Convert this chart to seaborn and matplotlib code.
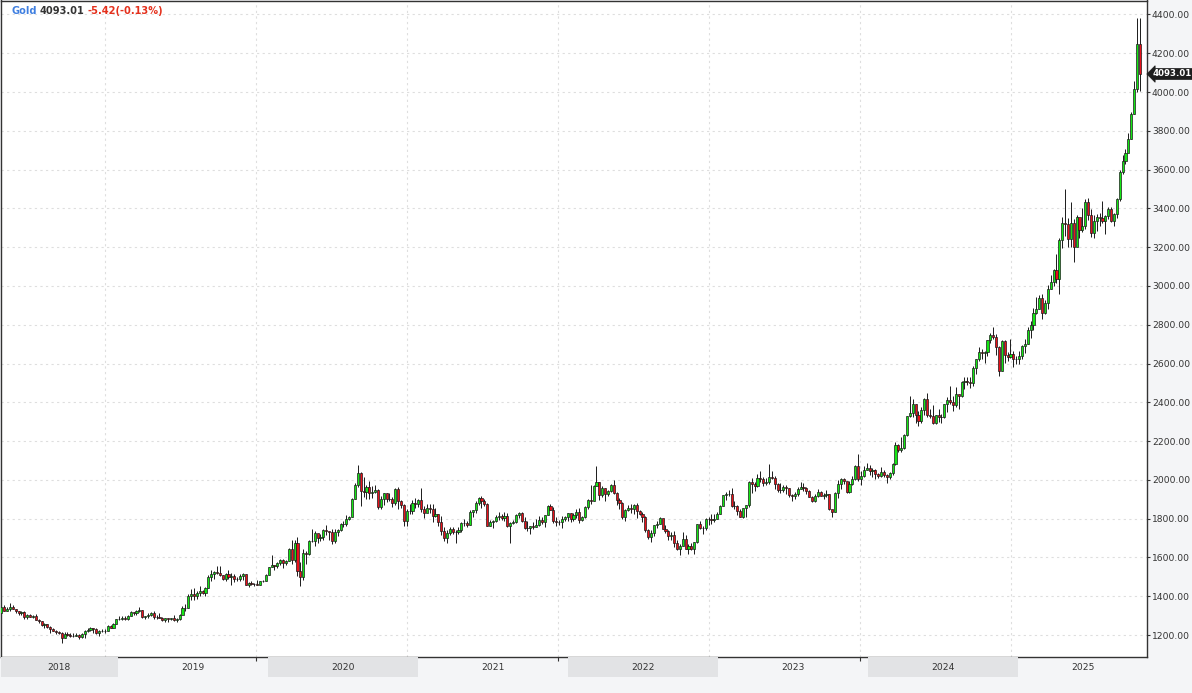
import numpy as np
import pandas as pd
import matplotlib
matplotlib.use("Agg")
import matplotlib.pyplot as plt
import matplotlib.dates as mdates
import matplotlib.transforms as mtransforms
import seaborn as sns

# ---------------- data (weekly Gold candles, Friday closes) ----------------
first_week = "2018-03-23"
first_open = 1313.0

close_2018 = [1347, 1325, 1332, 1345, 1336, 1323, 1315, 1320, 1291, 1303, 1294, 1298, 1279, 1270, 1252,
              1255, 1241, 1231, 1223, 1214, 1212, 1184, 1206, 1201, 1197, 1194, 1199, 1192, 1203, 1222,
              1227, 1235, 1233, 1209, 1222, 1223, 1222, 1248, 1238, 1257, 1280]
high_2018 = [1350, 1356, 1347, 1365, 1354, 1336, 1324, 1326, 1322, 1308, 1307, 1303, 1310, 1282, 1272,
             1263, 1259, 1246, 1236, 1228, 1222, 1213, 1214, 1214, 1212, 1212, 1212, 1204, 1209, 1228,
             1234, 1243, 1238, 1237, 1226, 1232, 1230, 1251, 1251, 1262, 1284]
low_2018 = [1312, 1322, 1322, 1325, 1333, 1316, 1302, 1304, 1285, 1281, 1292, 1290, 1276, 1260, 1246,
            1238, 1237, 1211, 1221, 1204, 1207, 1160, 1183, 1195, 1191, 1191, 1193, 1181, 1182, 1184,
            1218, 1220, 1211, 1205, 1196, 1218, 1212, 1222, 1234, 1236, 1256]

close_2019 = [1285, 1289, 1282, 1298, 1318, 1314, 1322, 1328, 1294, 1298, 1302, 1313, 1292, 1291, 1290,
              1275, 1286, 1281, 1286, 1277, 1284, 1305, 1341, 1341, 1399, 1409, 1400, 1415, 1426, 1419,
              1440, 1497, 1513, 1527, 1520, 1507, 1488, 1517, 1497, 1505, 1489, 1490, 1505, 1514, 1459,
              1468, 1462, 1464, 1460, 1476, 1478, 1511]
high_2019 = [1299, 1298, 1298, 1303, 1326, 1319, 1327, 1347, 1329, 1300, 1311, 1320, 1325, 1302, 1311,
             1293, 1290, 1290, 1289, 1303, 1286, 1307, 1348, 1358, 1411, 1439, 1443, 1426, 1453, 1434,
             1449, 1510, 1535, 1531, 1555, 1557, 1510, 1522, 1535, 1519, 1517, 1499, 1516, 1518, 1515,
             1475, 1476, 1466, 1483, 1480, 1482, 1514]
low_2019 = [1276, 1279, 1279, 1276, 1297, 1302, 1302, 1320, 1290, 1281, 1290, 1298, 1281, 1283, 1287,
            1270, 1266, 1267, 1279, 1274, 1267, 1276, 1306, 1322, 1340, 1382, 1382, 1384, 1403, 1411,
            1400, 1440, 1480, 1491, 1516, 1503, 1484, 1479, 1488, 1458, 1474, 1480, 1481, 1486, 1456,
            1445, 1456, 1451, 1459, 1458, 1471, 1477]

close_2020 = [1552, 1560, 1557, 1571, 1589, 1570, 1584, 1644, 1585, 1673, 1530, 1498, 1625, 1620, 1683,
              1683, 1726, 1701, 1703, 1743, 1734, 1730, 1684, 1730, 1742, 1771, 1775, 1799, 1810, 1902,
              1975, 2035, 1944, 1940, 1964, 1934, 1940, 1950, 1862, 1900, 1930, 1899, 1902, 1879, 1951,
              1889, 1872, 1788, 1839, 1839, 1881, 1877]
high_2020 = [1553, 1611, 1563, 1574, 1591, 1593, 1585, 1649, 1689, 1692, 1703, 1575, 1645, 1631, 1690,
             1747, 1738, 1723, 1722, 1745, 1765, 1738, 1745, 1745, 1745, 1779, 1789, 1818, 1815, 1904,
             1984, 2075, 2039, 2015, 1976, 1992, 1966, 1973, 1952, 1917, 1931, 1933, 1933, 1910, 1960,
             1965, 1898, 1876, 1848, 1875, 1896, 1907]
low_2020 = [1510, 1549, 1536, 1546, 1563, 1548, 1561, 1581, 1564, 1576, 1504, 1451, 1485, 1567, 1611,
            1681, 1660, 1672, 1685, 1688, 1718, 1692, 1671, 1672, 1711, 1736, 1757, 1764, 1791, 1807,
            1899, 1965, 1863, 1911, 1902, 1901, 1906, 1933, 1849, 1848, 1873, 1888, 1890, 1860, 1868,
            1850, 1853, 1764, 1764, 1822, 1826, 1855]

close_2021 = [1895, 1850, 1829, 1856, 1848, 1814, 1824, 1784, 1734, 1700, 1727, 1745, 1733, 1729, 1744,
              1777, 1777, 1769, 1832, 1844, 1881, 1905, 1891, 1877, 1764, 1781, 1787, 1808, 1812, 1802,
              1814, 1763, 1780, 1781, 1818, 1827, 1787, 1754, 1750, 1761, 1757, 1768, 1793, 1783, 1818,
              1865, 1846, 1788, 1783, 1783, 1798, 1809, 1829]
high_2021 = [1900, 1959, 1865, 1875, 1875, 1875, 1855, 1825, 1815, 1758, 1740, 1755, 1755, 1740, 1759,
             1784, 1797, 1790, 1843, 1846, 1890, 1913, 1916, 1903, 1880, 1795, 1791, 1818, 1834, 1824,
             1832, 1831, 1782, 1795, 1823, 1834, 1833, 1808, 1787, 1763, 1781, 1800, 1814, 1810, 1820,
             1869, 1877, 1858, 1808, 1792, 1815, 1812, 1831]
low_2021 = [1860, 1835, 1803, 1833, 1831, 1785, 1811, 1760, 1717, 1687, 1677, 1717, 1720, 1677, 1722,
            1733, 1760, 1756, 1767, 1808, 1830, 1868, 1855, 1867, 1761, 1761, 1750, 1784, 1792, 1794,
            1790, 1758, 1677, 1774, 1779, 1802, 1783, 1745, 1737, 1721, 1746, 1757, 1760, 1770, 1758,
            1817, 1843, 1777, 1762, 1767, 1753, 1788, 1790]

close_2022 = [1797, 1817, 1835, 1791, 1808, 1859, 1898, 1889, 1966, 1988, 1921, 1958, 1925, 1945, 1974,
              1932, 1896, 1883, 1811, 1846, 1853, 1850, 1871, 1839, 1826, 1811, 1742, 1703, 1727, 1766,
              1775, 1802, 1747, 1737, 1712, 1716, 1675, 1644, 1661, 1695, 1644, 1657, 1645, 1681, 1771,
              1751, 1754, 1798, 1797, 1793, 1798, 1824]
high_2022 = [1831, 1829, 1848, 1853, 1816, 1865, 1902, 1974, 1975, 2070, 1989, 1966, 1960, 1950, 1978,
             1998, 1936, 1909, 1885, 1850, 1869, 1874, 1877, 1879, 1847, 1832, 1813, 1745, 1739, 1767,
             1788, 1807, 1800, 1765, 1740, 1729, 1735, 1688, 1670, 1730, 1714, 1669, 1675, 1682, 1774,
             1787, 1760, 1804, 1810, 1824, 1823, 1833]
low_2022 = [1782, 1789, 1805, 1780, 1788, 1805, 1850, 1878, 1889, 1967, 1895, 1910, 1890, 1915, 1940,
            1929, 1872, 1850, 1798, 1787, 1839, 1829, 1825, 1805, 1817, 1784, 1732, 1697, 1681, 1711,
            1754, 1771, 1745, 1727, 1688, 1691, 1655, 1639, 1615, 1660, 1642, 1617, 1639, 1617, 1673,
            1747, 1721, 1743, 1765, 1772, 1785, 1796]

close_2023 = [1865, 1920, 1926, 1928, 1865, 1865, 1842, 1811, 1855, 1868, 1989, 1978, 1969, 2008, 2004,
              1983, 1990, 2017, 2011, 1977, 1946, 1948, 1961, 1958, 1921, 1919, 1925, 1955, 1962, 1959,
              1943, 1914, 1889, 1915, 1940, 1919, 1924, 1925, 1848, 1833, 1932, 1981, 2006, 1992, 1940,
              1981, 2002, 2072, 2004, 2019, 2053, 2063]
high_2023 = [1869, 1922, 1937, 1949, 1960, 1890, 1870, 1848, 1857, 1870, 1994, 2010, 1990, 2032, 2048,
             2015, 2009, 2081, 2048, 2022, 1985, 1983, 1971, 1971, 1959, 1929, 1935, 1964, 1987, 1982,
             1965, 1948, 1916, 1925, 1953, 1942, 1932, 1947, 1925, 1839, 1938, 1997, 2009, 2008, 1980,
             1994, 2018, 2075, 2135, 2047, 2071, 2088]
low_2023 = [1823, 1863, 1897, 1917, 1861, 1852, 1819, 1808, 1805, 1810, 1859, 1934, 1945, 1965, 1990,
            1970, 1975, 1978, 2005, 1951, 1937, 1932, 1939, 1925, 1912, 1893, 1903, 1917, 1951, 1943,
            1929, 1911, 1885, 1884, 1913, 1915, 1901, 1913, 1846, 1810, 1832, 1908, 1954, 1977, 1932,
            1932, 1976, 2001, 1995, 1973, 2016, 2052]

close_2024 = [2045, 2049, 2029, 2018, 2039, 2024, 2013, 2035, 2083, 2179, 2155, 2165, 2230, 2330, 2344,
              2392, 2337, 2302, 2360, 2415, 2334, 2327, 2294, 2333, 2322, 2326, 2392, 2411, 2400, 2387,
              2443, 2431, 2507, 2512, 2503, 2497, 2577, 2622, 2658, 2653, 2657, 2721, 2747, 2737, 2685,
              2563, 2716, 2643, 2633, 2648, 2622, 2621]
high_2024 = [2078, 2062, 2058, 2035, 2065, 2051, 2030, 2041, 2088, 2195, 2185, 2223, 2236, 2330, 2431,
             2417, 2392, 2353, 2378, 2422, 2450, 2364, 2387, 2335, 2368, 2339, 2392, 2425, 2484, 2432,
             2477, 2437, 2509, 2531, 2528, 2529, 2586, 2625, 2685, 2673, 2667, 2722, 2758, 2790, 2750,
             2690, 2721, 2722, 2658, 2726, 2665, 2638]
low_2024 = [2025, 2013, 2002, 2010, 2015, 2015, 1984, 2007, 2025, 2078, 2146, 2146, 2160, 2228, 2325,
            2324, 2291, 2277, 2291, 2333, 2326, 2321, 2286, 2287, 2297, 2293, 2319, 2351, 2393, 2353,
            2376, 2364, 2426, 2470, 2490, 2472, 2485, 2546, 2614, 2625, 2603, 2641, 2706, 2725, 2643,
            2537, 2563, 2605, 2614, 2630, 2583, 2596]

close_2025 = [2640, 2690, 2703, 2771, 2800, 2861, 2883, 2936, 2858, 2910, 2984, 3022, 3084, 3037, 3237,
              3327, 3319, 3240, 3325, 3202, 3357, 3289, 3310, 3432, 3368, 3275, 3337, 3355, 3350, 3337,
              3363, 3397, 3336, 3371, 3448, 3587, 3643, 3685, 3760, 3886, 4018, 4250, 4093.01]
high_2025 = [2665, 2697, 2726, 2786, 2817, 2886, 2942, 2955, 2956, 2930, 3005, 3057, 3087, 3167, 3245,
             3358, 3500, 3352, 3435, 3346, 3366, 3348, 3403, 3446, 3452, 3398, 3365, 3369, 3375, 3439,
             3365, 3409, 3405, 3378, 3453, 3600, 3674, 3707, 3791, 3897, 4059, 4380, 4381]
low_2025 = [2597, 2625, 2656, 2699, 2730, 2772, 2855, 2881, 2832, 2857, 2880, 2982, 2999, 3015, 2957,
            3195, 3260, 3202, 3202, 3121, 3205, 3245, 3280, 3293, 3340, 3255, 3247, 3282, 3310, 3325,
            3268, 3345, 3331, 3311, 3351, 3437, 3578, 3627, 3719, 3758, 3885, 4000, 4004]

price_ticks = [1200, 1400, 1600, 1800, 2000, 2200, 2400, 2600, 2800, 3000, 3200, 3400, 3600, 3800, 4000, 4200, 4400]
years = [2018, 2019, 2020, 2021, 2022, 2023, 2024, 2025]
grid_dates = ["2018-11-30", "2019-12-03", "2020-12-05", "2021-12-07", "2022-12-10", "2023-12-12", "2024-12-14"]
last_price = 4093.01
title_parts = [("Gold", "#3f7fe0"), ("4093.01", "#333333"), ("-5.42(-0.13%)", "#e4301c")]

# ---------------- build candles ----------------
close = np.array(close_2018 + close_2019 + close_2020 + close_2021 + close_2022 + close_2023 + close_2024 + close_2025, float)
high = np.array(high_2018 + high_2019 + high_2020 + high_2021 + high_2022 + high_2023 + high_2024 + high_2025, float)
low = np.array(low_2018 + low_2019 + low_2020 + low_2021 + low_2022 + low_2023 + low_2024 + low_2025, float)
open_ = np.concatenate([[first_open], close[:-1]])
dates = pd.date_range(first_week, periods=len(close), freq="7D")
df = pd.DataFrame({"date": dates, "open": open_, "high": high, "low": low, "close": close})
df["x"] = mdates.date2num(df["date"])

GREEN = "#14e614"
RED = "#e8101a"
EDGE = "#1a1a1a"

sns.set_theme(style="white")
plt.rcParams["font.family"] = ["DejaVu Sans"]

W, H = 1192, 693
fig = plt.figure(figsize=(W / 100, H / 100), dpi=100, facecolor="#f4f5f7")

ax_left = 0.5 / W
ax_w = 1146.2 / W
ax_bottom = 36 / H
ax_h = 656.5 / H
ax = fig.add_axes([ax_left, ax_bottom, ax_w, ax_h], facecolor="white")

days_per_px = 7 / 2.875
x2019 = mdates.date2num(pd.Timestamp("2019-01-01"))
xmin = x2019 - 117.5 * days_per_px
xmax = xmin + 1146.2 * days_per_px

GRID = "#dedede"
for gd in grid_dates:
    ax.axvline(mdates.date2num(pd.Timestamp(gd)), color=GRID, lw=0.8, ls=(0, (2, 3)), zorder=0)
for p in price_ticks:
    ax.axhline(p, color=GRID, lw=0.8, ls=(0, (2, 3)), zorder=0)

# candles
up = df["close"] >= df["open"]
colors = np.where(up, GREEN, RED)
body_bottom = np.minimum(df["open"], df["close"])
body_h = np.abs(df["close"] - df["open"])
ax.vlines(df["x"], df["low"], df["high"], color=EDGE, lw=0.7, zorder=2)
ax.bar(df["x"], body_h, width=5.2, bottom=body_bottom, color=colors,
       edgecolor=EDGE, linewidth=0.5, zorder=3, align="center")

ax.set_xlim(xmin, xmax)
ax.set_ylim(1086.6, 4472)

for s in ax.spines.values():
    s.set_visible(True)
    s.set_color("#333333")
    s.set_linewidth(1.0)

ax.yaxis.tick_right()
ax.set_yticks(price_ticks)
ax.set_yticklabels([f"{p:.2f}" for p in price_ticks])
ax.tick_params(axis="y", which="major", direction="out", length=2.5, width=0.8,
               color="#333333", labelsize=6.6, labelcolor="#333333", pad=1.2, right=True, left=False)
ax.set_xticks([mdates.date2num(pd.Timestamp(g)) for g in grid_dates])
ax.set_xticklabels([])
ax.tick_params(axis="x", which="major", direction="out", length=3, width=0.8, color="#333333", bottom=True)
ax.grid(False)

# last price tag
trans = mtransforms.blended_transform_factory(ax.transAxes, ax.transData)
ax.text(1.0052, last_price, f"{last_price:.2f}", transform=trans, ha="left", va="center",
        fontsize=6.2, color="white", fontweight="bold", clip_on=False, zorder=10,
        bbox=dict(boxstyle="larrow,pad=0.12", fc="#1e1e1e", ec="#1e1e1e", lw=0.5))

# year band axis
bax = fig.add_axes([ax_left, (H - 677) / H, ax_w, 20 / H], sharex=ax)
bax.set_facecolor("none")
bax.set_ylim(0, 1)
for yr in years:
    a = max(mdates.date2num(pd.Timestamp(f"{yr}-01-01")), xmin)
    b = min(mdates.date2num(pd.Timestamp(f"{yr + 1}-01-01")), xmax)
    if yr % 2 == 0:
        bax.axvspan(a, b, ymin=0, ymax=1, color="#e2e3e5", lw=0)
    bax.text((a + b) / 2, 0.5, str(yr), ha="center", va="center", fontsize=6.6, color="#333333")
bax.set_xlim(xmin, xmax)
for s in bax.spines.values():
    s.set_visible(False)
bax.tick_params(left=False, right=False, bottom=False, top=False, labelleft=False, labelbottom=False)
bax.set_xticks([])
bax.set_yticks([])
ax.set_xticks([mdates.date2num(pd.Timestamp(g)) for g in grid_dates])

# title
fig.canvas.draw()
renderer = fig.canvas.get_renderer()
xpix = 11
for txt, col in title_parts:
    t = fig.text(xpix / W, 1 - 11.5 / H, txt, ha="left", va="center", fontsize=7.1,
                 fontweight="bold", color=col)
    bb = t.get_window_extent(renderer=renderer)
    xpix += bb.width + 3.0

fig.savefig("out.png", dpi=100, facecolor=fig.get_facecolor())
